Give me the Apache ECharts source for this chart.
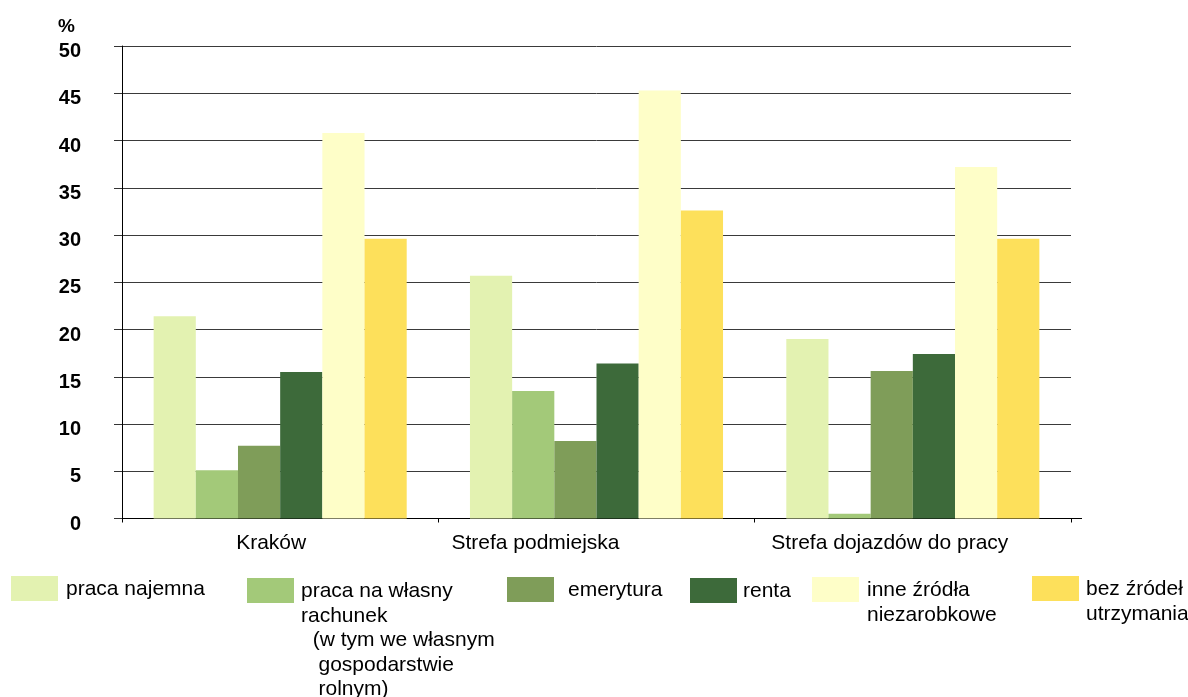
<!DOCTYPE html>
<html>
<head>
<meta charset="utf-8">
<script src="https://cdn.jsdelivr.net/npm/echarts@6/dist/echarts.min.js"></script>
<style>
html,body{margin:0;padding:0;background:#fff;}
#chart{width:1188px;height:697px;}
</style>
</head>
<body>
<div id="chart"></div>
<script>
var categories = ['Kraków', 'Strefa podmiejska', 'Strefa dojazdów do pracy'];
var seriesNames = ['praca najemna', 'praca na własny rachunek (w tym we własnym gospodarstwie rolnym)', 'emerytura', 'renta', 'inne źródła niezarobkowe', 'bez źródeł utrzymania'];
var legendLabels = ['praca najemna', 'praca na własny\nrachunek\n  (w tym we własnym\n   gospodarstwie\n   rolnym)', 'emerytura', 'renta', 'inne źródła\nniezarobkowe', 'bez źródeł\nutrzymania'];
var pracaNajemna = [21.4, 25.7, 19.0];
var pracaWlasna = [5.1, 13.5, 0.5];
var emerytura = [7.7, 8.2, 15.6];
var renta = [15.5, 16.4, 17.4];
var inneZrodla = [40.8, 45.3, 37.2];
var bezZrodel = [29.6, 32.6, 29.6];
var yTicks = [0, 5, 10, 15, 20, 25, 30, 35, 40, 45, 50];

var values = [pracaNajemna, pracaWlasna, emerytura, renta, inneZrodla, bezZrodel];
var colors = ['#E3F2B1', '#A3C979', '#7F9D59', '#3D6A3A', '#FEFEC8', '#FDE05B'];
var FONT = '"Liberation Sans", Arial, sans-serif';

// legend layout: [rectX, rectY, textX]
var legendPos = [[11, 576, 66], [247, 578, 301], [507, 577, 568], [690, 578, 743], [812, 577, 867], [1032, 576, 1086]];

var chart = echarts.init(document.getElementById('chart'));
var graphics = [{
  type: 'text', left: 58, top: 17,
  style: { text: '%', font: 'bold 19px ' + FONT, fill: '#000' }
}, {
  type: 'line', shape: { x1: 1071, y1: 518.5, x2: 1082, y2: 518.5 }, style: { stroke: '#000', lineWidth: 1 }
}];
legendPos.forEach(function (p, i) {
  graphics.push({ type: 'rect', shape: { x: p[0], y: p[1], width: 47, height: 25 }, style: { fill: colors[i] } });
  graphics.push({ type: 'text', x: p[2], y: p[1] + 1,
    style: { text: legendLabels[i], font: '21px ' + FONT, fill: '#000', lineHeight: 24.5, verticalAlign: 'top' } });
});

var shifts = [18, 122, 46];
var rich = {};
shifts.forEach(function (s, i) { rich['c' + i] = { fontSize: 21, fontFamily: FONT, color: '#000', padding: [0, s, 0, 0] }; });

chart.setOption({
  animation: false,
  grid: { left: 122, right: 117, top: 46, bottom: 178.5 },
  xAxis: {
    type: 'category',
    data: categories,
    axisLine: { lineStyle: { color: '#000', width: 1 } },
    axisTick: { show: true, length: 4, lineStyle: { color: '#000' } },
    axisLabel: {
      margin: 14,
      formatter: function (v, i) { return '{c' + i + '|' + v + '}'; },
      rich: rich
    }
  },
  yAxis: {
    type: 'value', min: yTicks[0], max: yTicks[yTicks.length - 1], interval: 5,
    axisLine: { show: true, lineStyle: { color: '#000', width: 1 } },
    axisTick: { show: true, length: 8, lineStyle: { color: '#333' } },
    axisLabel: {
      margin: 41,
      formatter: '{v|{value}}',
      rich: { v: { fontSize: 20, fontWeight: 'bold', fontFamily: FONT, color: '#000', padding: [11, 0, 0, 0] } }
    },
    splitLine: { show: true, lineStyle: { color: '#3a3a3a', width: 1 } }
  },
  series: seriesNames.map(function (n, i) {
    return {
      type: 'bar', name: n, data: values[i],
      barGap: '0%', barCategoryGap: '20%',
      itemStyle: { color: colors[i] }
    };
  }),
  graphic: graphics
});
</script>
</body>
</html>
